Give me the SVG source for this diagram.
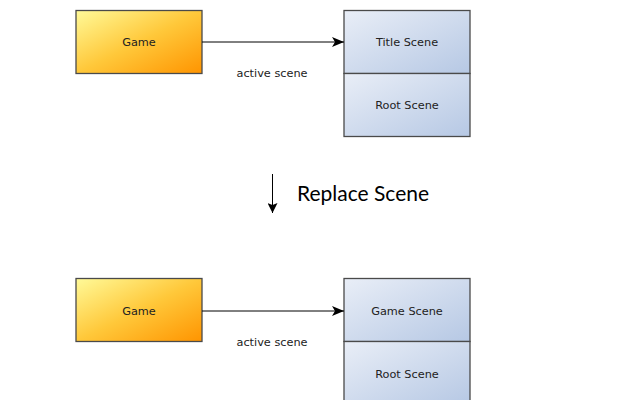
<svg xmlns="http://www.w3.org/2000/svg" width="640" height="400" viewBox="0 0 640 400">
<defs>
<linearGradient id="gOrange" x1="0" y1="0" x2="1" y2="1">
<stop offset="0" stop-color="#FFFA99"/>
<stop offset="0.5" stop-color="#FFC83A"/>
<stop offset="1" stop-color="#FF9400"/>
</linearGradient>
<linearGradient id="gBlue" x1="0" y1="0" x2="1" y2="1">
<stop offset="0" stop-color="#E9EEF7"/>
<stop offset="1" stop-color="#B6C8E4"/>
</linearGradient>
<marker id="arr" markerWidth="12" markerHeight="10" refX="12" refY="5" orient="auto" markerUnits="userSpaceOnUse">
<path d="M0,0 L12,5 L0,10 L3,5 Z" fill="#000"/>
</marker>
<marker id="arr2" markerWidth="10" markerHeight="10" refX="10" refY="5" orient="auto" markerUnits="userSpaceOnUse">
<path d="M0,0 L10,5 L0,10 L2,5 Z" fill="#000"/>
</marker>
</defs>
<style>
.game{fill:url(#gOrange);stroke:#4a4a4a;stroke-width:1.3}
.scene{fill:url(#gBlue);stroke:#4a4a4a;stroke-width:1.3}
.lbl{font-family:"DejaVu Sans",sans-serif;font-size:11.3px;fill:#222;text-anchor:middle}
.conn{stroke:#000;stroke-width:1;fill:none}
.big{font-family:Lato,"DejaVu Sans",sans-serif;font-size:21px;fill:#000}
</style>
<rect width="640" height="400" fill="#fff"/>
<g id="game-top">
<rect class="game" x="76" y="10.5" width="126" height="63"/>
<text class="lbl" x="139" y="46">Game</text>
</g>
<g id="stack-top">
<rect class="scene" x="344" y="10.5" width="126" height="63"/>
<text class="lbl" x="407" y="46">Title Scene</text>
<rect class="scene" x="344" y="73.5" width="126" height="63"/>
<text class="lbl" x="407" y="109">Root Scene</text>
</g>
<g id="game-bottom">
<rect class="game" x="76" y="278.5" width="126" height="63"/>
<text class="lbl" x="139" y="315">Game</text>
</g>
<g id="stack-bottom">
<rect class="scene" x="344" y="278.5" width="126" height="63"/>
<text class="lbl" x="407" y="315">Game Scene</text>
<rect class="scene" x="344" y="341.5" width="126" height="63"/>
<text class="lbl" x="407" y="378">Root Scene</text>
</g>
<g id="connectors">
<line class="conn" x1="202" y1="42" x2="344" y2="42" marker-end="url(#arr)"/>
<text class="lbl" x="272" y="76.5">active scene</text>
<line class="conn" x1="202" y1="311" x2="344" y2="311" marker-end="url(#arr)"/>
<text class="lbl" x="272" y="346">active scene</text>
<line class="conn" x1="272.5" y1="174" x2="272.5" y2="213" stroke-width="1.6" marker-end="url(#arr2)"/>
<text class="big" x="297" y="201">Replace Scene</text>
</g>
</svg>
